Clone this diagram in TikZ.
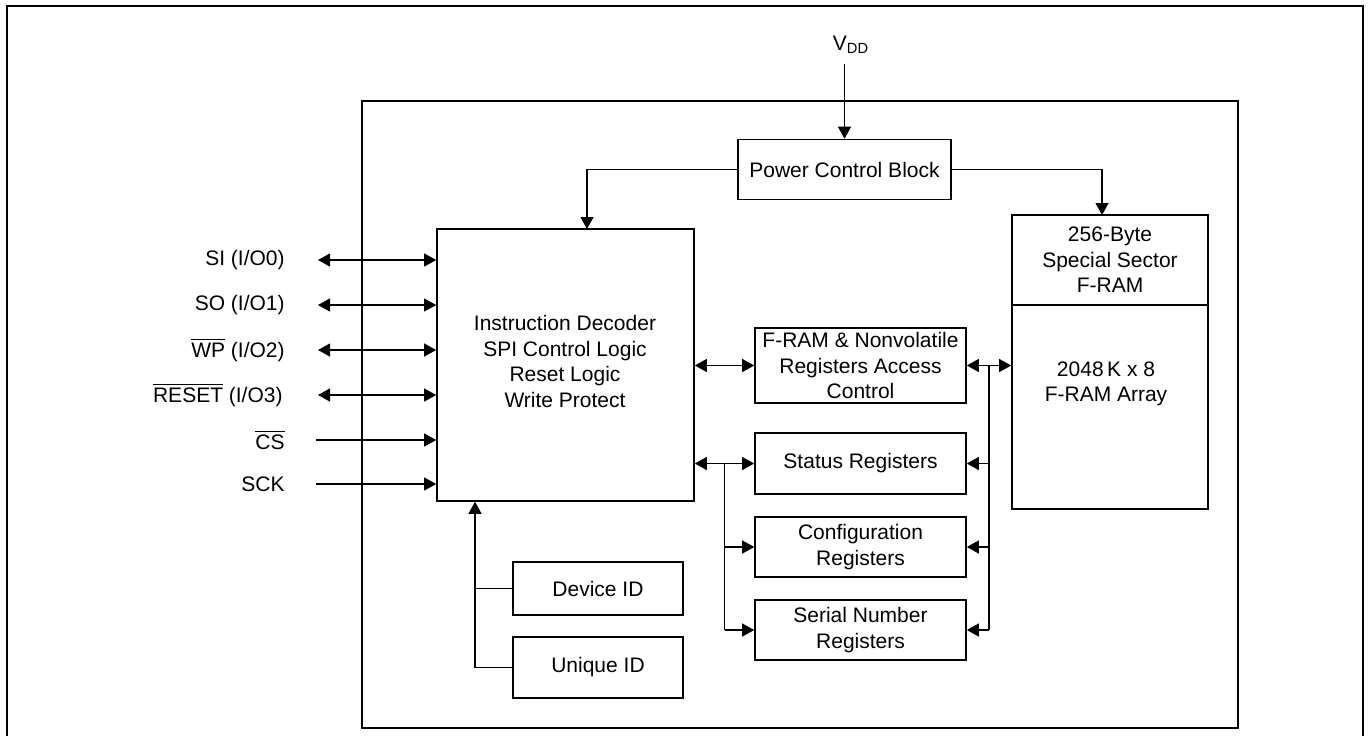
\documentclass[tikz,border=0pt]{standalone}
\usepackage{fontspec}
\setmainfont{Liberation Sans}
\usetikzlibrary{arrows.meta}
\begin{document}
\begin{tikzpicture}[x=0.5pt, y=-0.5pt,
  >={Triangle[length=6pt,width=6.5pt]},
  txt/.style={font=\fontsize{10.5}{12.75}\selectfont, align=center, inner sep=0pt},
  blk/.style={txt, draw, line width=0.8pt},
  con/.style={line width=0.55pt}]
\useasboundingbox (0,0) rectangle (1369,736);
% outer frame
\draw[line width=1.4pt] (7,736) -- (7,6) -- (1363,6) -- (1363,736);
% chip frame
\node[draw, line width=0.8pt, minimum width=438pt, minimum height=313.5pt, inner sep=0pt] (chip) at (800,414.5) {};

% blocks
\node[blk, minimum width=106.5pt, minimum height=30pt] (pcb) at (844.5,169.5) {Power Control Block};
\node[blk, minimum width=128.5pt, minimum height=136pt] (dec) at (565.5,365) {};
\node[txt] (dect) at (565,361.5) {Instruction Decoder\\SPI Control Logic\\Reset Logic\\Write Protect};
\node[blk, minimum width=98pt, minimum height=45pt] (ss) at (1110,260) {256-Byte\\Special Sector\\F-RAM};
\node[blk, minimum width=98pt, minimum height=102pt] (arr) at (1110,407) {};
\node[txt] (arrt) at (1106,384) {2048\,K x 8\\F-RAM Array};
\node[blk, minimum width=105.5pt, minimum height=37.5pt] (acc) at (860.5,365.5) {F-RAM \& Nonvolatile\\Registers Access\\Control};
\node[blk, minimum width=105.5pt, minimum height=30.5pt] (sta) at (860.5,463.5) {Status Registers};
\node[blk, minimum width=105.5pt, minimum height=30pt] (cfg) at (860.5,547) {Configuration\\Registers};
\node[blk, minimum width=105.5pt, minimum height=30pt] (ser) at (860.5,630) {Serial Number\\Registers};
\node[blk, minimum width=85pt, minimum height=26.5pt] (dev) at (598,588.5) {Device ID};
\node[blk, minimum width=85pt, minimum height=30.5pt] (uid) at (598,667.5) {Unique ID};

% VDD
\node[txt] (vdd) at (851,45) {V\textsubscript{DD}};
\coordinate (vdda) at (844.5,64);
\draw[con,->] (vdda) -- (pcb.north);
\coordinate (decin) at (587,229);
\draw[con,->] (pcb.west) -| (decin);
\coordinate (ssin) at (1102,215);
\draw[con,->] (pcb.east) -| (ssin);

% signals
\node[txt, anchor=east] (si) at (285,260) {SI (I/O0)};
\node[txt, anchor=east] (so) at (285,305) {SO (I/O1)};
\node[txt, anchor=east] (wp) at (285,350) {$\overline{\mbox{WP}}$ (I/O2)};
\node[txt, anchor=east] (rst) at (283,395) {$\overline{\mbox{RESET}}$ (I/O3)};
\node[txt, anchor=east] (cs) at (285,440) {$\overline{\mbox{CS}}$};
\node[txt, anchor=east] (sck) at (285,484) {SCK};
\coordinate (sia) at (318,260);
\coordinate (soa) at (318,305);
\coordinate (wpa) at (318,350);
\coordinate (rsta) at (318,395);
\coordinate (csa) at (316,440);
\coordinate (scka) at (316,484);
\draw[con,<->] (sia) -- (sia -| dec.west);
\draw[con,<->] (soa) -- (soa -| dec.west);
\draw[con,<->] (wpa) -- (wpa -| dec.west);
\draw[con,<->] (rsta) -- (rsta -| dec.west);
\draw[con,->] (csa) -- (csa -| dec.west);
\draw[con,->] (scka) -- (scka -| dec.west);

% access control
\draw[con,<->] (dec.east |- acc.west) -- (acc.west);
\draw[con,<->] (acc.east) -- (acc.east -| arr.west);

% right bus
\coordinate (rbt) at (989,365.5);
\draw[con] (rbt) -- (rbt |- ser.east);
\draw[con,->] (rbt |- sta.east) -- (sta.east);
\draw[con,->] (rbt |- cfg.east) -- (cfg.east);
\draw[con,->] (rbt |- ser.east) -- (ser.east);

% left bus
\coordinate (lb) at (724.5,463.5);
\draw[con,<->] (dec.east |- sta.west) -- (sta.west);
\draw[con] (lb) -- (lb |- ser.west);
\draw[con,->] (lb |- cfg.west) -- (cfg.west);
\draw[con,->] (lb |- ser.west) -- (ser.west);

% IDs
\coordinate (idx) at (475,501);
\draw[con,->] (uid.west) -| (dec.south -| idx);
\draw[con] (dev.west) -- (dev.west -| idx);
\end{tikzpicture}
\end{document}
